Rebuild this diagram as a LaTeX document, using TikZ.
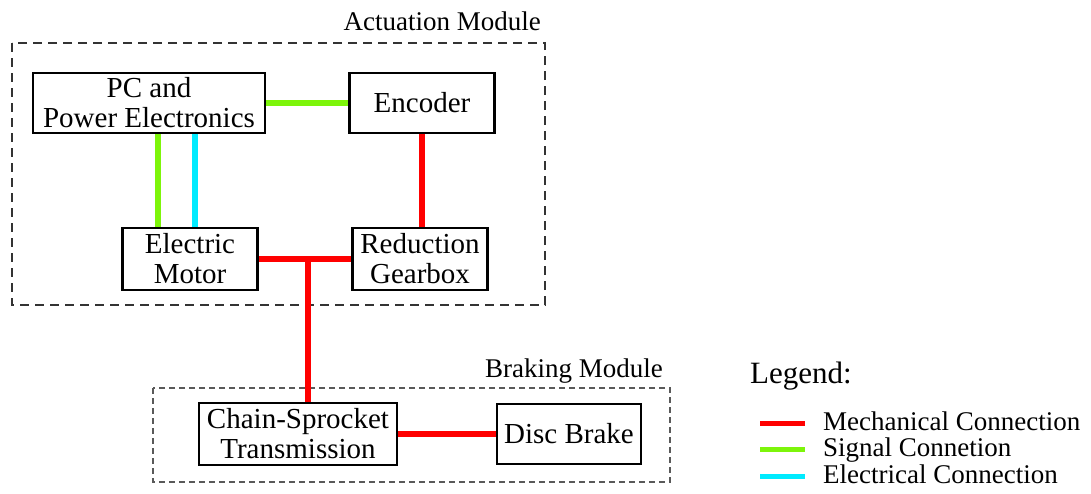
\documentclass[tikz,border=0pt]{standalone}
\usepackage{fontspec}
\setmainfont{Liberation Serif}
\definecolor{mechred}{RGB}{255,0,0}
\definecolor{siggreen}{RGB}{125,245,10}
\definecolor{eleccyan}{RGB}{0,235,255}
\tikzset{
  blockbox/.style={draw=black,line width=2.6pt,fill=white,align=center,
    inner sep=0pt,font=\fontsize{29}{30}\selectfont},
  mech/.style={draw=mechred,line width=6pt},
  sig/.style={draw=siggreen,line width=6pt},
  elec/.style={draw=eleccyan,line width=6pt},
  modframe/.style={line width=1.8pt,draw=black!80,dash pattern=on 9pt off 6pt},
  modlabel/.style={anchor=south east,inner sep=0pt,font=\fontsize{27}{28}\selectfont},
  legtext/.style={anchor=west,inner sep=0pt,text height=18pt,text depth=4pt,
    font=\fontsize{27}{28}\selectfont}
}
\begin{document}
\begin{tikzpicture}[x=1pt,y=-1pt]
   \useasboundingbox (0,0) rectangle (1091,493);
   % module frames
   \draw[modframe] (12,43) rectangle (545,305);
   \node[modlabel] (actlab) at (541,31) {Actuation Module};
   \draw[modframe,line width=1.3pt,draw=black!65,dash pattern=on 6pt off 4pt] (153,388) rectangle (670,482);
   \node[modlabel] (brklab) at (663,384) {Braking Module};

   % blocks
   \node[blockbox,minimum width=232pt,minimum height=60pt] (pc) at (149,103) {PC and\\Power Electronics};
   \node[blockbox,minimum width=145pt,minimum height=60pt] (enc) at (422,103) {Encoder};
   \node[blockbox,minimum width=135pt,minimum height=62pt] (motor) at (190,259) {Electric\\Motor};
   \node[blockbox,minimum width=135pt,minimum height=62pt] (gear) at (420,259) {Reduction\\Gearbox};
   \node[blockbox,minimum width=198pt,minimum height=62pt] (chain) at (298,434) {Chain-Sprocket\\Transmission};
   \node[blockbox,minimum width=144pt,minimum height=60pt] (brake) at (569,434) {Disc Brake};

   % connections
   \draw[sig] (pc.east) -- (enc.west);
   \draw[sig] ([xshift=-32pt]motor.north) -- ([xshift=-32pt]motor.north |- pc.south);
   \draw[elec] ([xshift=5pt]motor.north) -- ([xshift=5pt]motor.north |- pc.south);
   \draw[mech] (enc.south) -- (enc.south |- gear.north);
   \draw[mech] (motor.east) -- (gear.west);
   \coordinate (jn) at (308,259);
   \draw[mech] (jn) -- (jn |- chain.north);
   \draw[mech] (chain.east) -- (brake.west);

   % legend
   \node[anchor=west,inner sep=0pt,font=\fontsize{31}{32}\selectfont] (leg) at (750,376) {Legend:};
   \draw[mech,line width=5pt] (760,423) -- (805,423) coordinate (lm);
   \node[legtext] (legmech) at ([xshift=18pt]lm) {Mechanical Connection};
   \draw[sig,line width=5pt] (760,449) -- (805,449) coordinate (ls);
   \node[legtext] (legsig) at ([xshift=18pt]ls) {Signal Connetion};
   \draw[elec,line width=5pt] (760,476) -- (805,476) coordinate (le);
   \node[legtext] (legelec) at ([xshift=18pt]le) {Electrical Connection};
\end{tikzpicture}
\end{document}
